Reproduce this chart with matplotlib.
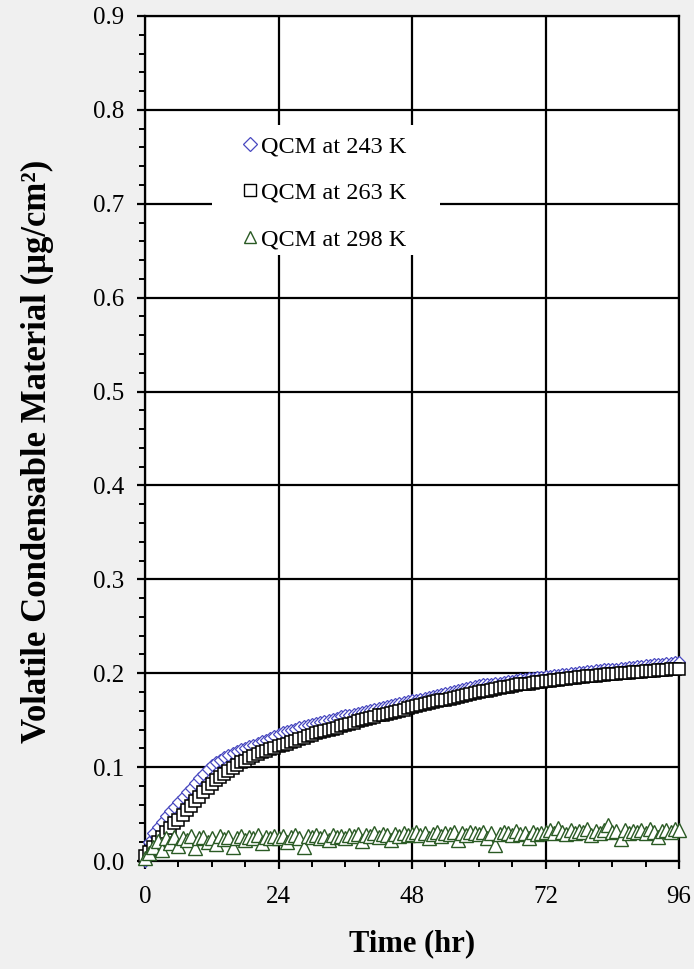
import numpy as np
import matplotlib
matplotlib.use("Agg")
import matplotlib.pyplot as plt
from matplotlib.patches import Rectangle
from matplotlib.lines import Line2D

plt.rcParams['font.family'] = ['Liberation Serif', 'DejaVu Serif']

# ---------------- data ----------------
time_hr = np.arange(0, 96.001, 0.75)  # sampling times (hr)

qcm_243 = [
    0.000, 0.020, 0.030, 0.036, 0.042, 0.048, 0.053, 0.058, 0.063, 0.068, 0.073, 0.078, 0.083, 0.088, 0.093, 0.098,
    0.102, 0.105, 0.108, 0.111, 0.113, 0.115, 0.117, 0.119, 0.120, 0.122, 0.124, 0.126, 0.128, 0.129, 0.131, 0.133,
    0.135, 0.137, 0.138, 0.140, 0.141, 0.143, 0.144, 0.145, 0.146, 0.147, 0.148, 0.149, 0.150, 0.151, 0.152, 0.154,
    0.155, 0.156, 0.157, 0.158, 0.159, 0.160, 0.161, 0.162, 0.163, 0.164, 0.165, 0.166, 0.167, 0.168, 0.169, 0.170,
    0.171, 0.172, 0.173, 0.174, 0.175, 0.176, 0.177, 0.178, 0.179, 0.180, 0.181, 0.182, 0.183, 0.184, 0.185, 0.186,
    0.187, 0.188, 0.188, 0.189, 0.190, 0.190, 0.191, 0.192, 0.192, 0.193, 0.194, 0.194, 0.195, 0.195, 0.196, 0.196,
    0.197, 0.197, 0.198, 0.198, 0.199, 0.199, 0.200, 0.200, 0.201, 0.201, 0.202, 0.202, 0.203, 0.203, 0.204, 0.204,
    0.205, 0.205, 0.206, 0.206, 0.207, 0.207, 0.208, 0.208, 0.209, 0.209, 0.210, 0.210, 0.210, 0.211, 0.211, 0.212,
    0.212,
]

qcm_263 = [
    0.005, 0.010, 0.015, 0.020, 0.026, 0.031, 0.035, 0.040, 0.044, 0.049, 0.054, 0.059, 0.064, 0.068, 0.073, 0.078,
    0.082, 0.086, 0.089, 0.093, 0.096, 0.099, 0.102, 0.105, 0.107, 0.110, 0.112, 0.114, 0.116, 0.117, 0.119, 0.120,
    0.122, 0.124, 0.125, 0.127, 0.128, 0.130, 0.131, 0.133, 0.134, 0.136, 0.137, 0.138, 0.140, 0.141, 0.142, 0.144,
    0.145, 0.146, 0.147, 0.149, 0.150, 0.151, 0.152, 0.153, 0.155, 0.156, 0.157, 0.158, 0.159, 0.160, 0.161, 0.163,
    0.164, 0.165, 0.166, 0.167, 0.168, 0.169, 0.170, 0.171, 0.172, 0.173, 0.174, 0.175, 0.176, 0.177, 0.178, 0.179,
    0.180, 0.181, 0.181, 0.182, 0.183, 0.184, 0.185, 0.185, 0.186, 0.187, 0.188, 0.189, 0.189, 0.190, 0.191, 0.191,
    0.192, 0.192, 0.193, 0.193, 0.194, 0.194, 0.195, 0.195, 0.196, 0.196, 0.197, 0.197, 0.197, 0.198, 0.198, 0.199,
    0.199, 0.199, 0.200, 0.200, 0.200, 0.201, 0.201, 0.201, 0.202, 0.202, 0.202, 0.203, 0.203, 0.203, 0.204, 0.204,
    0.204,
]

qcm_298 = [
    0.003, 0.008, 0.015, 0.021, 0.012, 0.024, 0.019, 0.026, 0.016, 0.025, 0.022, 0.027, 0.014, 0.024, 0.026, 0.020,
    0.025, 0.018, 0.027, 0.023, 0.026, 0.015, 0.025, 0.027, 0.022, 0.026, 0.024, 0.028, 0.019, 0.026, 0.025, 0.027,
    0.024, 0.027, 0.020, 0.026, 0.028, 0.025, 0.015, 0.027, 0.026, 0.028, 0.024, 0.027, 0.022, 0.028, 0.026, 0.027,
    0.025, 0.028, 0.027, 0.029, 0.021, 0.028, 0.027, 0.030, 0.026, 0.029, 0.028, 0.022, 0.029, 0.027, 0.030, 0.028,
    0.029, 0.031, 0.028, 0.030, 0.024, 0.029, 0.031, 0.027, 0.030, 0.029, 0.031, 0.022, 0.030, 0.028, 0.031, 0.030,
    0.029, 0.031, 0.024, 0.030, 0.017, 0.029, 0.031, 0.030, 0.028, 0.032, 0.029, 0.030, 0.025, 0.031, 0.029, 0.030,
    0.031, 0.033, 0.030, 0.035, 0.031, 0.029, 0.033, 0.030, 0.032, 0.031, 0.034, 0.028, 0.032, 0.030, 0.033, 0.038,
    0.031, 0.032, 0.023, 0.033, 0.030, 0.032, 0.031, 0.033, 0.030, 0.034, 0.031, 0.026, 0.032, 0.033, 0.031, 0.034,
    0.033,
]

series_labels = ["QCM at 243 K", "QCM at 263 K", "QCM at 298 K"]
x_ticks = [0, 24, 48, 72, 96]
y_ticks = [0.0, 0.1, 0.2, 0.3, 0.4, 0.5, 0.6, 0.7, 0.8, 0.9]

# ---------------- figure ----------------
W, H = 694, 969
fig = plt.figure(figsize=(W / 100, H / 100), dpi=100, facecolor='#f0f0f0')
ax = fig.add_axes([145 / W, 1 - 861 / H, 534 / W, 845 / H])
ax.set_facecolor('white')

blue = '#4848c0'
green = '#2a5a24'

ax.plot(time_hr, qcm_243, linestyle='none', marker='D', markersize=6.0, clip_on=False,
        markerfacecolor='white', markeredgecolor=blue, markeredgewidth=0.9, zorder=3)
ax.plot(time_hr, qcm_263, linestyle='none', marker='s', markersize=8.0, clip_on=False,
        markerfacecolor='white', markeredgecolor='black', markeredgewidth=1.1, zorder=4)
ax.plot(time_hr, qcm_298, linestyle='none', marker='^', markersize=9.5, clip_on=False,
        markerfacecolor='white', markeredgecolor=green, markeredgewidth=1.0, zorder=5)

ax.set_xlim(0, 96)
ax.set_ylim(0, 0.9)
ax.set_xticks(x_ticks)
ax.set_yticks(y_ticks)
ax.set_yticklabels([f"{v:.1f}" for v in y_ticks])
ax.set_xticks(np.arange(0, 96.01, 6), minor=True)
ax.set_yticks(np.arange(0, 0.9001, 0.02), minor=True)

ax.set_axisbelow(True)
ax.grid(True, which='major', color='black', linewidth=1.6)

for sp in ax.spines.values():
    sp.set_linewidth(1.6)
    sp.set_color('black')

ax.tick_params(which='major', direction='out', length=6, width=1.6,
               labelsize=18, colors='black')
ax.tick_params(axis='x', which='major', pad=12)
ax.tick_params(axis='y', which='major', pad=9)
ax.tick_params(which='minor', direction='out', length=4, width=1.4)
ax.tick_params(top=False, right=False, which='both')

# legend with white box covering grid
box = Rectangle((0.125, 0.717), 0.427, 0.154, transform=ax.transAxes,
                facecolor='white', edgecolor='none', zorder=1)
ax.add_patch(box)

handles = [
    Line2D([], [], linestyle='none', marker='D', markersize=7, markerfacecolor='white',
           markeredgecolor=blue, markeredgewidth=0.9),
    Line2D([], [], linestyle='none', marker='s', markersize=8.5, markerfacecolor='white',
           markeredgecolor='black', markeredgewidth=1.0),
    Line2D([], [], linestyle='none', marker='^', markersize=9, markerfacecolor='white',
           markeredgecolor=green, markeredgewidth=1.0),
]
leg = ax.legend(handles, series_labels, loc='upper left', bbox_to_anchor=(0.16, 0.873),
                frameon=False, fontsize=17.5, labelspacing=1.0, handlelength=0.6,
                handletextpad=0.15, borderpad=0.0)
leg.set_zorder(6)

ax.set_xlabel("Time (hr)", fontsize=22, fontweight='bold')
ax.xaxis.set_label_coords(0.5, -0.081)
ax.set_ylabel("Volatile Condensable Material (μg/cm²)", fontsize=25, fontweight='bold')
ax.yaxis.set_label_coords(-0.17, 0.485)

fig.savefig("out.png", dpi=100, facecolor=fig.get_facecolor())
